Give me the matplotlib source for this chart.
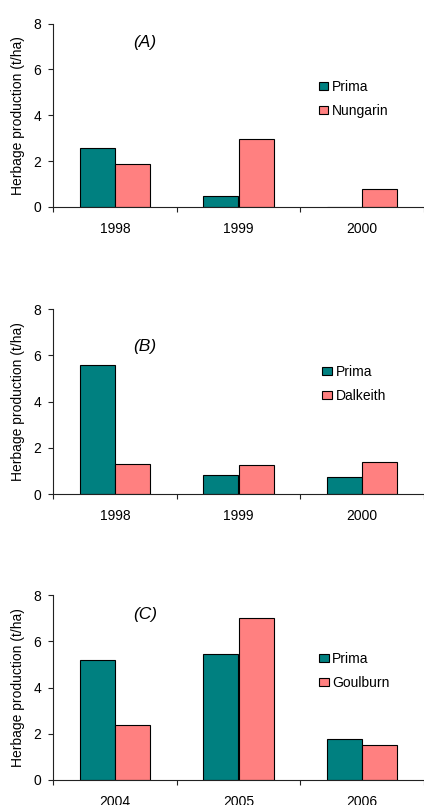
import numpy as np
import matplotlib
matplotlib.use('Agg')
import matplotlib.pyplot as plt

plt.rcParams['font.family'] = ['Liberation Sans', 'DejaVu Sans']

# Panel data
years_a = ['1998', '1999', '2000']
prima_a = [2.58, 0.48, 0.0]
nungarin_a = [1.86, 2.98, 0.79]

years_b = ['1998', '1999', '2000']
prima_b = [5.56, 0.82, 0.72]
dalkeith_b = [1.31, 1.26, 1.40]

years_c = ['2004', '2005', '2006']
prima_c = [5.19, 5.47, 1.79]
goulburn_c = [2.37, 7.03, 1.50]

PRIMA_COLOR = '#008080'
OTHER_COLOR = '#FF8080'


def draw_panel(ax, years, prima, other, other_name, tag, tag_y, leg_xy):
    x = np.arange(len(years))
    w = 0.284
    ax.bar(x - w / 2, prima, w, color=PRIMA_COLOR, edgecolor='black',
           linewidth=0.8, label='Prima')
    ax.bar(x + w / 2, other, w, color=OTHER_COLOR, edgecolor='black',
           linewidth=0.8, label=other_name)

    ax.set_xlim(-0.5, len(years) - 0.5)
    ax.set_ylim(0, 8)
    ax.set_yticks([0, 2, 4, 6, 8])
    ax.spines['top'].set_visible(False)
    ax.spines['right'].set_visible(False)
    ax.spines['left'].set_color('#222222')
    ax.spines['bottom'].set_color('#222222')

    # ticks between categories, labels centred without ticks
    ax.set_xticks(np.arange(len(years) + 1) - 0.5)
    ax.set_xticklabels([])
    ax.set_xticks(x, minor=True)
    ax.set_xticklabels(years, minor=True)
    ax.tick_params(axis='x', which='major', direction='out', length=3.5,
                   color='#222222')
    ax.tick_params(axis='x', which='minor', length=0, pad=11, labelsize=10)
    ax.tick_params(axis='y', direction='out', length=3.5, pad=5,
                   labelsize=10, color='#222222')

    ax.set_ylabel('Herbage production (t/ha)', fontsize=10, labelpad=6)
    ax.text(0.245, tag_y, tag, style='italic', fontsize=12.5,
            ha='center', va='center')
    ax.legend(loc='center left', bbox_to_anchor=leg_xy, frameon=False,
              borderpad=0, fontsize=10, handlelength=0.7, handleheight=0.55,
              handletextpad=0.25, labelspacing=0.72)


fig = plt.figure(figsize=(4.24, 8.05), dpi=100)
ax_a = fig.add_axes([0.125, 0.7429, 0.875, 0.2277])
ax_b = fig.add_axes([0.125, 0.3863, 0.875, 0.2298])
ax_c = fig.add_axes([0.125, 0.0311, 0.875, 0.2294])

draw_panel(ax_a, years_a, prima_a, nungarin_a, 'Nungarin', '(A)', 7.16,
           (0.697, 0.589))
draw_panel(ax_b, years_b, prima_b, dalkeith_b, 'Dalkeith', '(B)', 6.37,
           (0.707, 0.594))
draw_panel(ax_c, years_c, prima_c, goulburn_c, 'Goulburn', '(C)', 7.15,
           (0.698, 0.592))

fig.savefig('out.png', dpi=100, facecolor='white')
